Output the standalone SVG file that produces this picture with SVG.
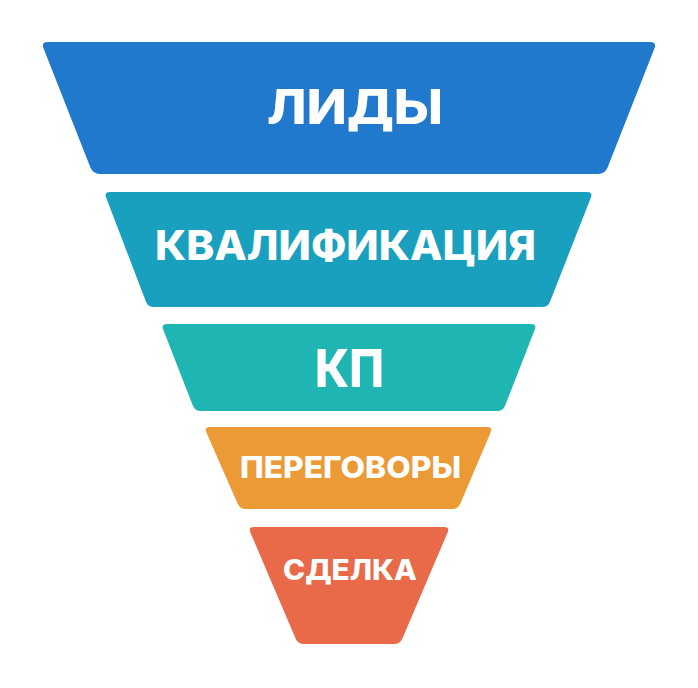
<svg xmlns="http://www.w3.org/2000/svg" width="698" height="688" viewBox="0 0 698 688">
<style>
.lbl{font-family:Inter,"Open Sans","Liberation Sans",sans-serif;font-weight:800;fill:#ffffff}
</style>
<rect width="698" height="688" fill="#ffffff"/>
<g id="stage-leads">
<path d="M 48 42 H 650 Q 657 42 654.4 48.5 L 607.6 167.5 Q 605 174 598 174 H 100 Q 93 174 90.4 167.5 L 43.6 48.5 Q 41 42 48 42 Z" fill="#2179CE"/>
<text class="lbl" x="267" y="123.5" font-size="48" textLength="176" lengthAdjust="spacingAndGlyphs">ЛИДЫ</text>
</g>
<g id="stage-qualification">
<path d="M 110 192 H 587 Q 593 192 590.9 197.6 L 550.1 301.4 Q 548 307 542 307 H 154 Q 148 307 145.9 301.4 L 106.1 197.6 Q 104 192 110 192 Z" fill="#18A0BE"/>
<text class="lbl" x="155" y="260" font-size="41" textLength="381" lengthAdjust="spacingAndGlyphs">КВАЛИФИКАЦИЯ</text>
</g>
<g id="stage-kp">
<path d="M 167 324 H 531 Q 537 324 534.8 329.6 L 505.2 405.4 Q 503 411 497 411 H 201 Q 195 411 192.8 405.4 L 163.2 329.6 Q 161 324 167 324 Z" fill="#1FB5B2"/>
<text class="lbl" x="315" y="387" font-size="52" textLength="69" lengthAdjust="spacingAndGlyphs">КП</text>
</g>
<g id="stage-negotiations">
<path d="M 210 427 H 487 Q 493 427 490.6 432.5 L 460.4 503.5 Q 458 509 452 509 H 246 Q 240 509 237.6 503.5 L 206.4 432.5 Q 204 427 210 427 Z" fill="#EC9A36"/>
<text class="lbl" x="240" y="478" font-size="30" textLength="221" lengthAdjust="spacingAndGlyphs">ПЕРЕГОВОРЫ</text>
</g>
<g id="stage-deal">
<path d="M 254 527 H 444 Q 450 527 447.6 532.5 L 402.4 638.5 Q 400 644 394 644 H 304 Q 298 644 295.6 638.5 L 250.4 532.5 Q 248 527 254 527 Z" fill="#E96A48"/>
<text class="lbl" x="283" y="580" font-size="28" textLength="134" lengthAdjust="spacingAndGlyphs">СДЕЛКА</text>
</g>
<g id="connectors"></g>
</svg>
